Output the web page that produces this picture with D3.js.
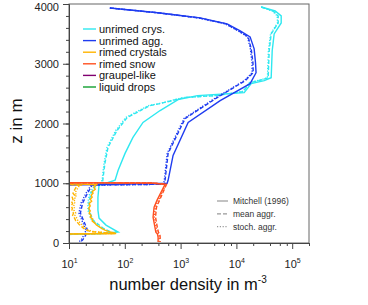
<!DOCTYPE html>
<html lang="en">
<head>
<meta charset="UTF-8">
<title>Number density profiles</title>
<style>
  body { margin: 0; background: #fff; }
  text { font-family: "Liberation Sans", Arial, sans-serif; }
</style>
</head>
<body>
<svg id="chart"></svg>
<script src="https://cdn.jsdelivr.net/npm/d3@7"></script>
<script>
// ---- data: [z in m, number density in m^-3] ----
var crysMitchell = [[3950,27800],[3883,49500],[3800,63500],[3683,63500],[3500,47500],[3217,43800],[2767,42000],[2717,31500],[2667,18400],[2517,13800],[2467,2000],[2400,900],[2217,429],[2017,212],[1767,140],[1500,101],[1217,76],[1050,67],[1000,46],[967,34.5],[767,33],[550,33],[417,34.5],[300,46],[183,76],[160,40],[140,5]];
var crysMean = [[3950,27800],[3883,45600],[3800,56100],[3683,56100],[3500,42000],[3217,38700],[2767,37100],[2733,29000],[2683,17600],[2533,13200],[2467,4160],[2433,1156],[2333,429],[2300,284],[2100,110],[1883,72.6],[1600,50],[1333,44],[1083,40.7],[1017,40],[967,30.5],[833,24.8],[700,23],[550,22.8],[383,26.9],[250,40.7],[167,61.5],[150,20],[135,5]];
var crysStoch = [[3950,27800],[3883,44000],[3800,54000],[3683,54500],[3500,41000],[3217,37500],[2767,36000],[2733,28000],[2683,17000],[2533,12800],[2467,4000],[2433,1100],[2333,410],[2300,265],[2100,104],[1883,69],[1600,48],[1333,42.5],[1083,39.5],[1017,38],[967,29],[833,23.5],[700,22],[550,21.8],[383,25.5],[250,38],[167,58],[150,18],[135,5]];

var aggMitchell = [[3933,54],[3850,429],[3767,2240],[3667,6820],[3550,11700],[3450,17600],[3250,20800],[3017,22000],[2850,22500],[2667,17600],[2383,5120],[2017,1365],[1467,733],[1050,597],[1000,573],[967,5]];
var aggMean = [[3933,54],[3850,420],[3767,2150],[3667,6500],[3550,11000],[3450,16300],[3250,18400],[3017,19800],[2850,20000],[2717,14400],[2433,4520],[2083,1205],[1500,597],[1050,527],[983,510],[970,26],[833,21.5],[667,17.5],[500,16],[333,19],[217,21.5],[133,20],[50,17.5],[17,16]];
var aggStoch = [[3933,54],[3850,410],[3767,2100],[3667,6300],[3550,10700],[3450,15800],[3250,17800],[3017,19000],[2850,19200],[2717,13800],[2433,4300],[2083,1150],[1500,575],[1050,510],[983,495],[967,24.8],[833,20.2],[667,16.4],[500,15.1],[333,17.8],[217,20.2],[133,18.6],[50,16.4],[17,15]];

var rimedCrysMitchell = [[1005,5],[975,31],[940,28],[900,29.5],[860,26],[833,27],[800,25],[767,26],[730,24],[700,25.5],[660,23],[620,24],[580,22.5],[540,24],[500,23],[460,25],[433,24],[400,26.5],[370,26],[333,29],[300,31],[270,35],[240,39],[217,44],[190,52],[160,70],[148,5]];
var rimedCrysMean = [[1000,5],[967,15],[940,13.5],[900,12.8],[860,12],[833,11.8],[800,12.6],[767,11.4],[730,11.8],[700,11],[660,11.6],[620,10.9],[580,11.5],[540,11.2],[500,12],[460,11.6],[433,12.3],[400,12.8],[370,13.2],[333,14.5],[300,15.5],[270,17],[240,18.6],[217,20.2],[190,25],[160,66],[148,5]];
var rimedCrysStoch = [[1000,5],[967,16.4],[940,14.8],[900,14],[860,13.2],[833,13],[800,13.8],[767,12.6],[730,13],[700,12.2],[660,12.8],[620,12],[580,12.6],[540,12.3],[500,13.2],[460,12.8],[433,13.5],[400,14],[370,14.5],[333,16],[300,17],[270,18.6],[240,20.5],[217,22],[190,28],[160,66],[148,5]];

var snowMitchell = [[1010,5],[1005,300],[983,527],[717,379],[600,335],[433,321],[250,349],[180,360],[150,385],[100,395],[17,395]];
var snowMean = [[1010,5],[1003,310],[983,560],[717,420],[600,370],[433,355],[250,385],[180,400],[150,425],[100,430],[17,430]];
var snowStoch = [[1010,5],[1003,305],[983,545],[717,400],[600,352],[433,338],[250,367],[180,380],[150,405],[100,412],[17,412]];

var speciesNames = ["unrimed crys.", "unrimed agg.", "rimed crystals", "rimed snow", "graupel-like", "liquid drops"];
var speciesColors = ["#2ee8f0", "#1f3cf0", "#ffb400", "#ff5020", "#800070", "#10a030"];
var methodNames = ["Mitchell (1996)", "mean aggr.", "stoch. aggr."];

var yTicks = [0, 1000, 2000, 3000, 4000];
var xTicks = [1e1, 1e2, 1e3, 1e4, 1e5];

// ---- layout ----
var W = 368, H = 305;
var plot = {left: 69, right: 309, top: 4, bottom: 243};
var dashes = [null, "4,2", "1.2,1.6"];

var svg = d3.select("#chart").attr("width", W).attr("height", H);

var x = d3.scaleLog().domain([10, 2e5]).range([plot.left, plot.right]);
var y = d3.scaleLinear().domain([0, 4000]).range([plot.bottom, plot.top]);

svg.append("clipPath").attr("id", "clip")
  .append("rect")
    .attr("x", plot.left).attr("y", plot.top)
    .attr("width", plot.right - plot.left).attr("height", plot.bottom - plot.top);

var line = d3.line()
  .x(function(d) { return x(d[1]); })
  .y(function(d) { return y(d[0]); });

var series = [
  {data: crysMitchell, sp: 0, m: 0}, {data: crysMean, sp: 0, m: 1}, {data: crysStoch, sp: 0, m: 2},
  {data: aggMitchell, sp: 1, m: 0}, {data: aggMean, sp: 1, m: 1}, {data: aggStoch, sp: 1, m: 2},
  {data: rimedCrysMitchell, sp: 2, m: 0}, {data: rimedCrysMean, sp: 2, m: 1}, {data: rimedCrysStoch, sp: 2, m: 2},
  {data: snowMitchell, sp: 3, m: 0}, {data: snowMean, sp: 3, m: 1}, {data: snowStoch, sp: 3, m: 2}
];

svg.append("g")
  .attr("clip-path", "url(#clip)")
  .selectAll("path")
  .data(series)
  .enter().append("path")
    .attr("d", function(d) { return line(d.data); })
    .attr("fill", "none")
    .attr("stroke", function(d) { return speciesColors[d.sp]; })
    .attr("stroke-width", 1.4)
    .attr("stroke-dasharray", function(d) { return dashes[d.m]; });

// ---- frame ----
svg.append("rect")
  .attr("x", plot.left).attr("y", plot.top)
  .attr("width", plot.right - plot.left).attr("height", plot.bottom - plot.top)
  .attr("fill", "none").attr("stroke", "#666").attr("stroke-width", 1);

// ---- axes ----
var yAxis = svg.append("g")
  .attr("transform", "translate(" + plot.left + ",0)")
  .call(d3.axisLeft(y).tickValues(yTicks).tickSize(6).tickSizeOuter(0).tickPadding(4).tickFormat(d3.format("d")));
svg.append("g")
  .attr("transform", "translate(" + plot.left + ",0)")
  .call(d3.axisLeft(y).tickValues(d3.range(0, 4001, 200)).tickSize(3).tickSizeOuter(0).tickFormat(""));

var minorX = [];
xTicks.concat([1e0]).forEach(function(p) {
  [2, 4, 6, 8].forEach(function(k) { if (p * k >= 10 && p * k <= 2e5) minorX.push(p * k); });
});
var xAxis = svg.append("g")
  .attr("transform", "translate(0," + plot.bottom + ")")
  .call(d3.axisBottom(x).tickValues(xTicks).tickSize(6).tickSizeOuter(0).tickFormat("").tickPadding(8));
svg.append("g")
  .attr("transform", "translate(0," + plot.bottom + ")")
  .call(d3.axisBottom(x).tickValues(minorX).tickSize(3).tickSizeOuter(0).tickFormat(""));

svg.selectAll(".domain").attr("stroke", "#444");
svg.selectAll(".tick line").attr("stroke", "#444");
yAxis.selectAll("text").attr("font-size", 11).attr("fill", "#222")
  .style("font-family", "'Liberation Sans', Arial, sans-serif")
  .attr("dy", function(d) { return d === 4000 ? "0.62em" : "0.32em"; });

xAxis.selectAll(".tick").each(function(d) {
  var t = d3.select(this).append("text")
    .attr("y", 25).attr("text-anchor", "middle")
    .attr("font-size", 11).attr("fill", "#222")
    .style("font-family", "'Liberation Sans', Arial, sans-serif");
  t.append("tspan").text("10");
  t.append("tspan").attr("dy", -5).attr("font-size", 7).text(Math.round(Math.log10(d)));
});

// ---- axis titles ----
svg.append("text")
  .attr("transform", "translate(22,121) rotate(-90)")
  .attr("text-anchor", "middle").attr("font-size", 17).attr("fill", "#111")
  .text("z in m");

var xt = svg.append("text")
  .attr("x", 188).attr("y", 290)
  .attr("text-anchor", "middle").attr("font-size", 16.5).attr("fill", "#111");
xt.append("tspan").text("number density in m");
xt.append("tspan").attr("dy", -7).attr("font-size", 10).text("-3");

// ---- species legend ----
var leg = svg.append("g").attr("transform", "translate(83,29)");
var legRows = leg.selectAll("g").data(speciesNames).enter().append("g")
  .attr("transform", function(d, i) { return "translate(0," + (i * 11.6) + ")"; });
legRows.append("line")
  .attr("x1", 0).attr("x2", 13).attr("y1", 0).attr("y2", 0)
  .attr("stroke", function(d, i) { return speciesColors[i]; }).attr("stroke-width", 1.4);
legRows.append("text")
  .attr("x", 16).attr("y", 4).attr("font-size", 11).attr("fill", "#111")
  .text(function(d) { return d; });

// ---- method legend ----
var leg2 = svg.append("g").attr("transform", "translate(217,201)");
var leg2Rows = leg2.selectAll("g").data(methodNames).enter().append("g")
  .attr("transform", function(d, i) { return "translate(0," + (i * 12.8) + ")"; });
leg2Rows.append("line")
  .attr("x1", 0).attr("x2", 11).attr("y1", 0).attr("y2", 0)
  .attr("stroke", "#999").attr("stroke-width", 1.2)
  .attr("stroke-dasharray", function(d, i) { return dashes[i]; });
leg2Rows.append("text")
  .attr("x", 16).attr("y", 3).attr("font-size", 8.5).attr("fill", "#333")
  .text(function(d) { return d; });
</script>
</body>
</html>
